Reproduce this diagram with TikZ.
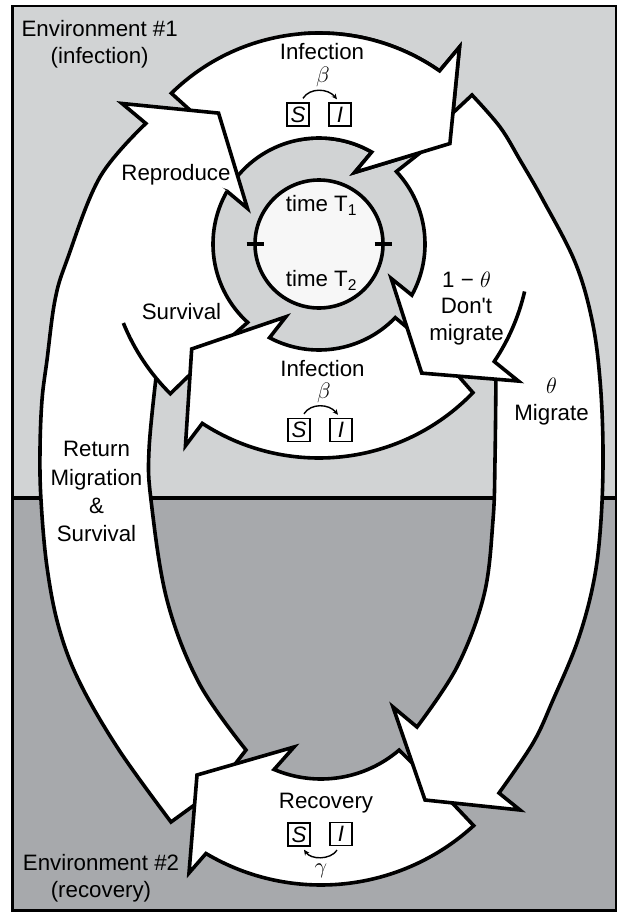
\documentclass[tikz,border=0pt]{standalone}
\usepackage{fix-cm}
\usepackage{fontspec}
\setmainfont{Liberation Sans}
\usetikzlibrary{calc,arrows.meta}

\definecolor{envone}{RGB}{209,211,212}
\definecolor{envtwo}{RGB}{167,169,172}
\definecolor{clockface}{RGB}{247,247,247}

\begin{document}
\begin{tikzpicture}[x=1pt, y=-1pt,
    flow/.style={fill=white, draw=black, line width=3.6pt, line join=miter},
    flowfill/.style={fill=white, draw=none},
    flowline/.style={draw=black, line width=3.6pt, line join=miter},
    lbl/.style={font=\fontsize{22.3}{26.5}\selectfont, inner sep=0pt, align=center},
    compart/.style={draw, line width=1.4pt, minimum width=22pt, minimum height=23pt,
        inner sep=0pt, font=\fontsize{22.3}{26.5}\selectfont\itshape},
    rate/.style={line width=1.4pt, -{Stealth[length=5.5pt,width=5pt]}},
    toparrow/.style={insert path={
        ($(C)+(225.6:211)$) arc[start angle=225.6, end angle=304.85, radius=211]
        -- ($(C)+(305.5:242)$) -- ($(C)+(322.5:165)$) -- ($(C)+(296.5:80)$)
        -- ($(C)+(299.83:106)$) arc[start angle=299.83, end angle=216, radius=106]
        -- ($(C)+(227:150)$) -- cycle}}]

\useasboundingbox (0,0) rectangle (621,913);
\coordinate (C) at (319,244);
\coordinate (B) at (321,659);
\coordinate (rmnotch) at ($(C)+(214.85:211)$);
\coordinate (junction) at ($(C)+(140.6:211)$);

\fill[envone] (12.5,6) rectangle (616,498);
\fill[envtwo] (12.5,498) rectangle (616,910.5);
\draw[line width=4pt] (12.5,498) -- (616,498);
\draw[line width=2.6pt] (12.5,6) rectangle (616,910.5);

\filldraw[flow, toparrow];

\filldraw[flow] plot[smooth, tension=0.6] coordinates {(171,822) (119,750) (80,683) (59,628) (47,567) (41,500) (40,450) (42,400) (47,360) (55,300) (67,260) (100,177) (rmnotch)}
    -- ($(C)+(215.5:242)$) -- ($(C)+(232.5:165)$) -- ($(C)+(206.5:80)$) -- ($(C)+(209.83:106)$)
    -- ($(C)+(205:195)$) arc[start angle=205, end angle=150, radius=195]
    -- (junction) -- plot[smooth, tension=0.6] coordinates {(junction) (149,450) (151,500) (167,600) (199,683) (246,750)}
    -- (215,790) -- cycle;

\fill[flowfill] ($(C)+(134.8:211)$) -- (205,360) -- ($(C)+(132.3:106)$)
    arc[start angle=132.3, end angle=209.83, radius=106]
    -- ($(C)+(214:208)$) arc[start angle=214, end angle=160, radius=208]
    -- ($(C)+(158:211)$) arc[start angle=158, end angle=134.8, radius=211] -- cycle;
\draw[flowline] ($(C)+(158:211)$) arc[start angle=158, end angle=134.8, radius=211]
    -- (205,360) -- ($(C)+(132.3:106)$) arc[start angle=132.3, end angle=209.83, radius=106];

\filldraw[flow] ($(C)+(44:214)$) arc[start angle=44, end angle=123.05, radius=214]
    -- ($(C)+(123.5:242)$) -- ($(C)+(140.5:165)$) -- ($(C)+(114.5:80)$)
    -- ($(C)+(117.83:106)$) arc[start angle=117.83, end angle=44, radius=106]
    -- (440,355) -- cycle;

\filldraw[flow] ($(B)+(47.5:226)$) arc[start angle=47.5, end angle=120.6, radius=226]
    -- (189,873) -- (197,775) -- (294,747) -- ($(B)+(113:120)$)
    arc[start angle=113, end angle=49.4, radius=120] -- (440,790) -- cycle;

\filldraw[flow] plot[smooth, tension=0.6] coordinates {(472,95) (500,127) (520,160) (543,200) (575,262) (592,320) (600,380) (603,450) (601,520) (594,580) (578,640) (553,700) (533,743) (499,793)}
    -- (520,810) -- (425,800) -- (393,707) -- (417,727)
    -- plot[smooth, tension=0.6] coordinates {(417,727) (457,667) (484,595) (493,520) (495,460) (496,372)}
    -- ($(C)+(25:150)$) arc[start angle=25, end angle=-30, radius=150]
    -- (424,140) -- cycle;

\fill[flowfill] ($(C)+(316.9:106)$) -- ($(C)+(319.5:205)$) arc[start angle=319.5, end angle=365, radius=205]
    -- ($(C)+(373:211)$) arc[start angle=373, end angle=393.85, radius=211]
    -- ($(C)+(394.5:242)$) -- ($(C)+(411.5:165)$) -- ($(C)+(385.5:80)$)
    -- ($(C)+(388.83:106)$) arc[start angle=388.83, end angle=316.9, radius=106] -- cycle;
\draw[flowline] ($(C)+(373:211)$) arc[start angle=373, end angle=393.85, radius=211]
    -- ($(C)+(394.5:242)$) -- ($(C)+(411.5:165)$) -- ($(C)+(385.5:80)$)
    -- ($(C)+(388.83:106)$) arc[start angle=388.83, end angle=316.9, radius=106]
    -- ($(C)+(318.5:160)$);

\begin{scope}
    \clip (300,0) rectangle (621,260);
    \filldraw[flow, toparrow];
\end{scope}

\node[circle, draw, fill=clockface, line width=3.6pt, minimum size=128pt, inner sep=0pt, outer sep=0pt] (clock) at (C) {};
\draw[line width=4.5pt] ([xshift=-8.5pt]clock.west) -- ([xshift=8.5pt]clock.west);
\draw[line width=4.5pt] ([xshift=-8.5pt]clock.east) -- ([xshift=8.5pt]clock.east);
\node[lbl, anchor=base] (tone) at (321.5,211.7) {time T\textsubscript{1}};
\node[lbl, anchor=base] (ttwo) at (321.5,286.7) {time T\textsubscript{2}};

\node[lbl, anchor=base] (envA) at (99.7,63.2) {Environment \#1\\(infection)};
\node[lbl, anchor=base] (envB) at (101,897.2) {Environment \#2\\(recovery)};

\node[lbl, anchor=base] (inftop) at (322,59.5) {Infection};
\node[lbl] (betatop) at (323,76.7) {$\beta$};
\node[compart] (stop) at (298,114.5) {S};
\node[compart] (itop) at (340,114.5) {I};
\draw[rate] ($(stop.north)+(5,-4)$) .. controls +(7,-11) and +(-9,-11) .. ($(itop.north)+(-3,-3)$);

\node[lbl, anchor=base] (infbot) at (322.5,376.5) {Infection};
\node[lbl] (betabot) at (324,393.3) {$\beta$};
\node[compart] (sbot) at (299,430) {S};
\node[compart] (ibot) at (341,430) {I};
\draw[rate] ($(sbot.north)+(5,-4)$) .. controls +(7,-11) and +(-9,-11) .. ($(ibot.north)+(-3,-3)$);

\node[lbl, anchor=base] (recov) at (326,808) {Recovery};
\node[compart] (srec) at (299,834.5) {S};
\node[compart] (irec) at (341,834) {I};
\draw[rate] ($(irec.south)+(-4,4)$) .. controls +(-7,10) and +(7,10) .. ($(srec.south)+(5,3)$);
\node[lbl] (gamma) at (321,871) {$\gamma$};

\node[lbl, anchor=base] (repro) at (176,180) {Reproduce};
\node[lbl, anchor=base] (surv) at (181.5,319.5) {Survival};
\node[lbl, anchor=base, font=\fontsize{22.3}{28.3}\selectfont] (retmig) at (96.5,541.7) {Return\\Migration\\\&\\Survival};
\node[lbl, anchor=base] (stay) at (466.5,340) {1 − $\theta$\\Don\textquotesingle t\\migrate};
\node[lbl, anchor=base] (migr) at (551.5,420) {$\theta$\\Migrate};

\end{tikzpicture}
\end{document}
